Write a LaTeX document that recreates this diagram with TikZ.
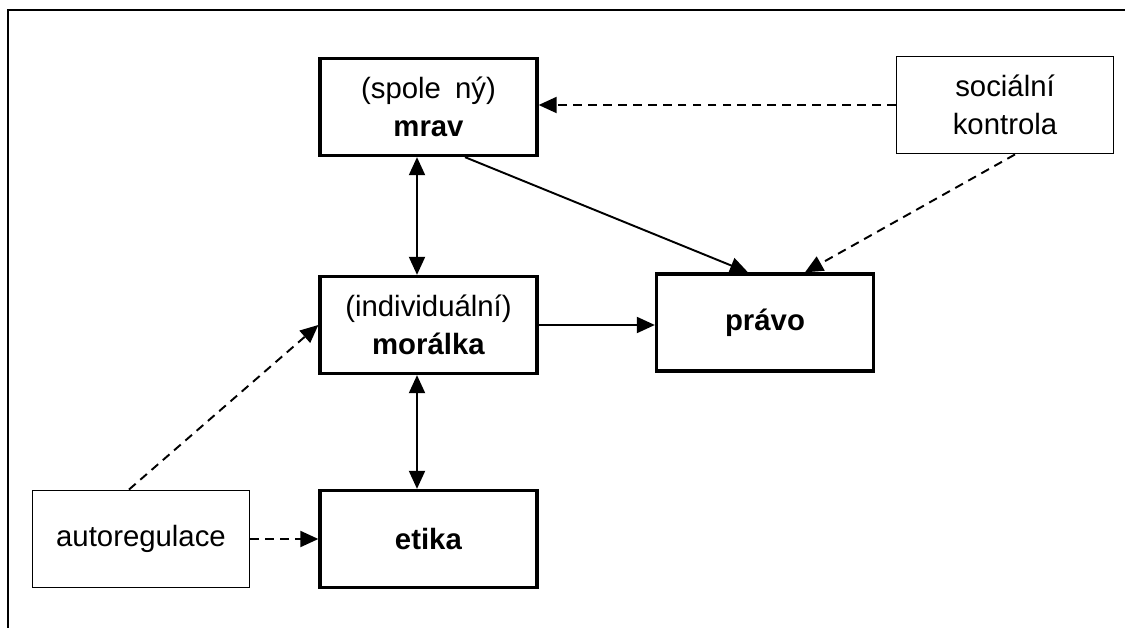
\documentclass[tikz,border=0pt]{standalone}
\usepackage{fontspec}
\setmainfont{Liberation Sans}
\usetikzlibrary{arrows.meta, positioning, calc}

\tikzset{
    pojem/.style={draw, line width=1.9pt, minimum width=4.34cm, minimum height=1.94cm, align=center, font=\fontsize{16.7}{21.5}\selectfont},
    vliv/.style={draw, line width=1.1pt, minimum width=4.34cm, minimum height=1.94cm, align=center, font=\fontsize{16.7}{21.5}\selectfont},
    sip/.style={line width=1.1pt, -{Triangle[length=0.36cm, width=0.32cm]}},
    obousip/.style={line width=1.1pt, {Triangle[length=0.36cm, width=0.32cm]}-{Triangle[length=0.36cm, width=0.32cm]}},
    carkou/.style={dash pattern=on 5pt off 3.5pt}
}

\begin{document}
\begin{tikzpicture}[x=0.02cm, y=-0.02cm]
    \useasboundingbox (0,0) rectangle (1126,628);
    % ramecek
    \draw[line width=0.7pt] (8,628) -- (8,10) -- (1125,10);

    % pojmy
    \node[pojem] (mrav) at (428.5,107) {(spole\hspace{0.2em} ný)\\\textbf{mrav}};
    \node[pojem] (moralka) at (428.5,325) {(individuální)\\\textbf{morálka}};
    \node[pojem] (etika) at (428.5,539) {\textbf{etika}};
    \node[pojem] (pravo) at (765,322.5) {\textbf{právo}};

    % regulace
    \node[vliv] (kontrola) at (1005,105) {sociální\\kontrola};
    \node[vliv] (autoreg) at (141,539) {autoregulace};

    % vazby
    \draw[obousip] ([xshift=-0.23cm]mrav.south) -- ([xshift=-0.23cm]moralka.north);
    \draw[obousip] ([xshift=-0.23cm]moralka.south) -- ([xshift=-0.23cm]etika.north);
    \draw[sip] ([xshift=0.73cm]mrav.south) -- ([xshift=-0.34cm]pravo.north);
    \draw[sip] (moralka.east) -- (moralka.east -| pravo.west);
    \draw[sip, carkou] (kontrola.west) -- (kontrola.west -| mrav.east);
    \draw[sip, carkou] ([xshift=0.2cm]kontrola.south) -- ([xshift=0.8cm]pravo.north);
    \draw[sip, carkou] ([xshift=-0.24cm]autoreg.north) -- (moralka.west);
    \draw[sip, carkou] (autoreg.east) -- (etika.west);
\end{tikzpicture}
\end{document}
